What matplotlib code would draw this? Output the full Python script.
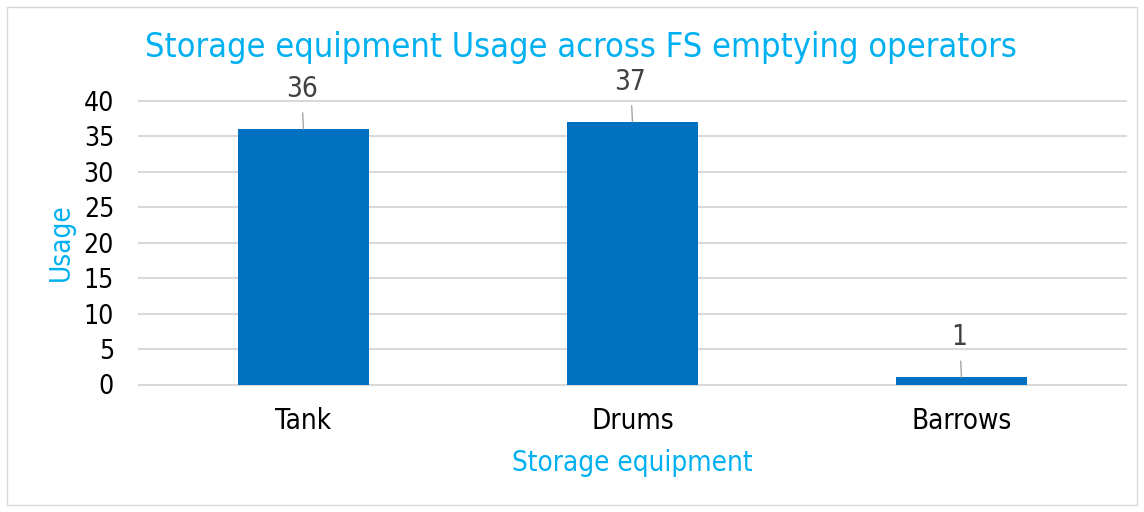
import matplotlib
matplotlib.use("Agg")
import matplotlib.pyplot as plt
from matplotlib.patches import Rectangle

# equipment counts
categories = ["Tank", "Drums", "Barrows"]
usage = [36, 37, 1]
y_ticks = [0, 5, 10, 15, 20, 25, 30, 35, 40]

plt.rcParams['font.family'] = ['DejaVu Sans']
plt.rcParams['font.stretch'] = 'condensed'

bar_col = '#0070C0'
title_col = '#00B0F0'
grid_col = '#D9D9D9'
label_col = '#404040'

W, H = 1144, 512
fig = plt.figure(figsize=(W / 100, H / 100), dpi=100)

# chart border
fig.patches.append(Rectangle((7 / W, 7 / H), 1130 / W, 498 / H, transform=fig.transFigure,
                             fill=False, edgecolor=grid_col, linewidth=1))

ax = fig.add_axes([139 / W, 1 - 384.5 / H, 987 / W, 283.8 / H])
x = list(range(len(categories)))
ax.bar(x, usage, width=0.4, color=bar_col, zorder=3)
ax.set_xlim(-0.5, len(categories) - 0.5)
ax.set_ylim(0, 40)
ax.set_yticks(y_ticks)
ax.set_xticks(x)
ax.set_xticklabels(categories, fontsize=20)
ax.tick_params(axis='y', labelsize=19, length=0, pad=18)
ax.tick_params(axis='x', length=0, pad=16)
ax.grid(axis='y', color=grid_col, linewidth=1.5, zorder=0)
for gl in ax.get_ygridlines():
    gl.set_clip_on(False)
for s in ax.spines.values():
    s.set_visible(False)

# data labels with leader lines
for xi, v in zip(x, usage):
    ax.annotate(str(v), xy=(xi, v), xytext=(-2, 40), textcoords='offset pixels',
                ha='center', va='center', fontsize=20, color=label_col,
                arrowprops=dict(arrowstyle='-', color='#A6A6A6', lw=1,
                                shrinkA=5, shrinkB=0))

ax.set_ylabel("Usage", color=title_col, fontsize=20, labelpad=6)
ax.set_xlabel("Storage equipment", color=title_col, fontsize=20, labelpad=10)
fig.text(581 / W, 1 - 47 / H, "Storage equipment Usage across FS emptying operators",
         ha='center', va='center', fontsize=24.7, color=title_col)

fig.savefig("out.png", dpi=100)
